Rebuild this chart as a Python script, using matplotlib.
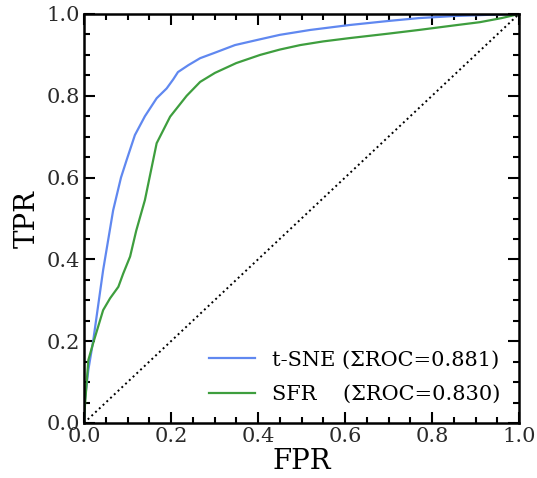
import numpy as np
import matplotlib
matplotlib.use("Agg")
import matplotlib.pyplot as plt
from matplotlib.ticker import MultipleLocator

# ROC curves
tsne_fpr = [0.0, 0.002, 0.01, 0.021, 0.044, 0.067, 0.085, 0.098, 0.117, 0.14, 0.167,
            0.19, 0.205, 0.216, 0.24, 0.267, 0.30, 0.347, 0.40, 0.45, 0.52, 0.61,
            0.70, 0.77, 0.85, 0.93, 1.0]
tsne_tpr = [0.0, 0.056, 0.13, 0.20, 0.374, 0.52, 0.60, 0.643, 0.704, 0.75, 0.794,
            0.818, 0.840, 0.858, 0.875, 0.892, 0.905, 0.924, 0.937, 0.949, 0.961, 0.973,
            0.983, 0.99, 0.995, 0.998, 1.0]
sfr_fpr = [0.0, 0.002, 0.01, 0.021, 0.044, 0.06, 0.079, 0.09, 0.106, 0.12, 0.14, 0.167,
           0.198, 0.236, 0.267, 0.301, 0.35, 0.405, 0.45, 0.497, 0.55, 0.61, 0.70,
           0.77, 0.85, 0.91, 0.96, 1.0]
sfr_tpr = [0.0, 0.04, 0.154, 0.195, 0.276, 0.305, 0.333, 0.365, 0.407, 0.47, 0.545, 0.684,
           0.749, 0.80, 0.834, 0.856, 0.88, 0.90, 0.913, 0.924, 0.933, 0.941, 0.952,
           0.961, 0.972, 0.98, 0.99, 1.0]

labels = ["t-SNE (\u03a3ROC=0.881)", "SFR    (\u03a3ROC=0.830)"]

plt.rcParams['font.family'] = 'DejaVu Serif'
plt.rcParams['mathtext.fontset'] = 'dejavuserif'

fig = plt.figure(figsize=(5.37, 4.78), dpi=100)
ax = fig.add_axes([84 / 537, 1 - 423 / 478, 435 / 537, 409 / 478])

ax.plot(tsne_fpr, tsne_tpr, color='#6088f0', lw=1.6, label=labels[0])
ax.plot(sfr_fpr, sfr_tpr, color='#3e9e3e', lw=1.6, label=labels[1])
ax.plot([0, 1], [0, 1], 'k:', lw=1.4)

ax.set_xlim(0, 1)
ax.set_ylim(0, 1)
ax.set_xlabel("FPR", fontsize=20, labelpad=1)
ax.set_ylabel("TPR", fontsize=20, labelpad=4)

ax.xaxis.set_major_locator(MultipleLocator(0.2))
ax.yaxis.set_major_locator(MultipleLocator(0.2))
ax.xaxis.set_minor_locator(MultipleLocator(0.05))
ax.yaxis.set_minor_locator(MultipleLocator(0.05))
ax.tick_params(which='both', direction='in', top=True, right=True, labelsize=15,
               width=1.5, labelcolor='#2a2a2a')
ax.tick_params(which='major', length=8, pad=3)
ax.tick_params(which='minor', length=4)
for s in ax.spines.values():
    s.set_linewidth(1.8)

ax.legend(loc='lower right', frameon=False, fontsize=15, handlelength=2.2,
          handletextpad=0.8, borderaxespad=0.5, labelspacing=0.75)

fig.savefig("out.png", dpi=100)
